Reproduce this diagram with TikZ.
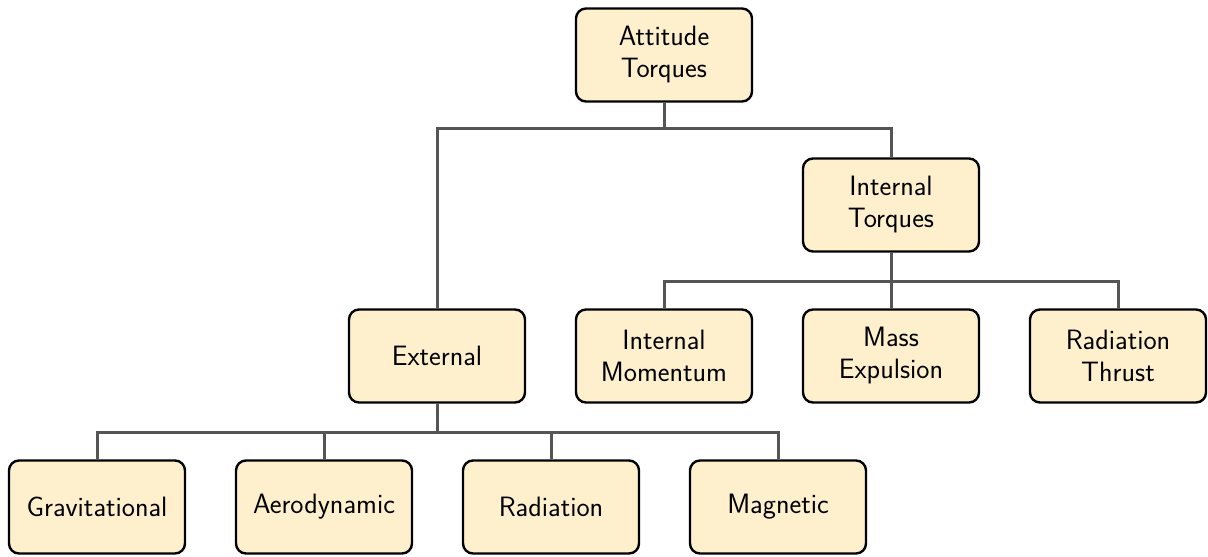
\documentclass[tikz,border=0pt]{standalone}
\usepackage{fontspec}
\definecolor{boxfill}{HTML}{FEF0CC}
\definecolor{linkgray}{HTML}{555555}
\tikzset{
  torque/.style={draw=black, line width=2.4pt, fill=boxfill, rounded corners=10pt,
    minimum width=176pt, minimum height=93pt, align=center,
    font=\sffamily\fontsize{28}{32}\selectfont},
  link/.style={draw=linkgray, line width=3pt}
}
\begin{document}
\begin{tikzpicture}[x=1pt, y=-1pt]
  \useasboundingbox (0,0) rectangle (1208,557);
  % top
  \node[torque] (att) at (664,55) {Attitude\\Torques};
  % second level
  \node[torque] (int) at (891,205) {Internal\\Torques};
  \node[torque] (ext) at (437,356) {External};
  % internal torque sources
  \node[torque] (mom) at (664,356) {Internal\\Momentum};
  \node[torque] (mass) at (891,356) {Mass\\Expulsion};
  \node[torque] (thr) at (1118,356) {Radiation\\Thrust};
  % external torque sources
  \node[torque] (grav) at (97,507) {Gravitational};
  \node[torque] (aero) at (324,507) {Aerodynamic};
  \node[torque] (rad) at (551,507) {Radiation};
  \node[torque] (mag) at (778,507) {Magnetic};
  % connectors
  \coordinate (j1) at (664,128);
  \coordinate (j2) at (891,281);
  \coordinate (j3) at (437,432);
  \draw[link] (att.south) -- (j1);
  \draw[link] (ext.north) |- (j1) -| (int.north);
  \draw[link] (int.south) -- (j2);
  \draw[link] (mom.north) |- (j2) -| (thr.north);
  \draw[link] (j2) -- (mass.north);
  \draw[link] (ext.south) -- (j3);
  \draw[link] (grav.north) |- (j3) -| (mag.north);
  \draw[link] (aero.north) |- (j3);
  \draw[link] (rad.north) |- (j3);
\end{tikzpicture}
\end{document}
